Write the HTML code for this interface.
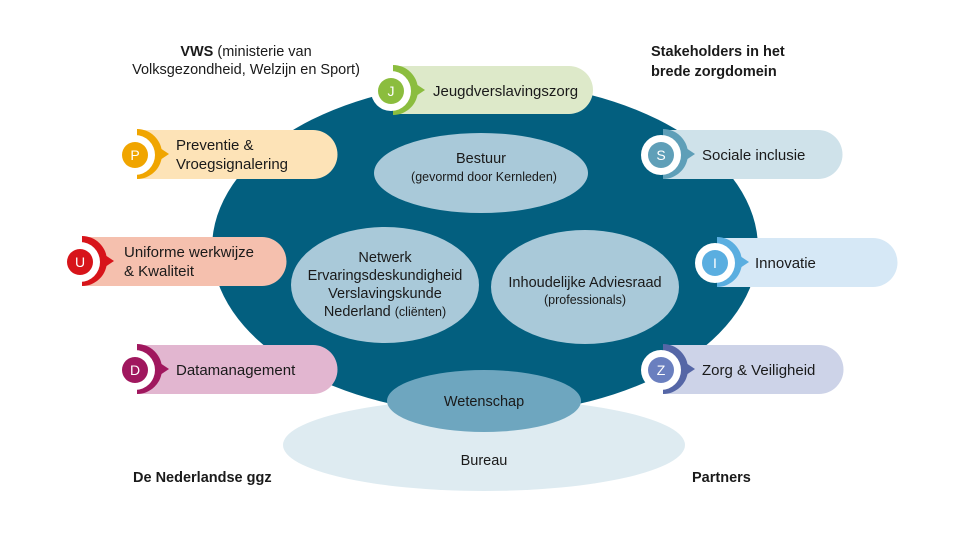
<!DOCTYPE html>
<html><head><meta charset="utf-8"><style>
html,body{margin:0;padding:0;background:#fff;}
svg{display:block;font-family:"Liberation Sans",sans-serif;}
</style></head><body>
<svg width="960" height="549" viewBox="0 0 960 549" xmlns="http://www.w3.org/2000/svg">
<ellipse cx="484" cy="445" rx="201" ry="46" fill="#deebf1"/>
<ellipse cx="485" cy="248" rx="273" ry="166" fill="#035f7f"/>
<ellipse cx="481" cy="173" rx="107" ry="40" fill="#a9c9d9"/>
<ellipse cx="385" cy="285" rx="94" ry="58" fill="#a9c9d9"/>
<ellipse cx="585" cy="287" rx="94" ry="57" fill="#a9c9d9"/>
<ellipse cx="484" cy="401" rx="97" ry="31" fill="#6ea6bf"/>
<g font-size="14.5" fill="#1a1a1a" text-anchor="middle">
<text x="481" y="163">Bestuur</text>
<text x="484" y="181" font-size="12.5">(gevormd door Kernleden)</text>
<text x="385" y="262">Netwerk</text>
<text x="385" y="280">Ervaringsdeskundigheid</text>
<text x="385" y="298">Verslavingskunde</text>
<text x="385" y="316">Nederland <tspan font-size="12.5">(cliënten)</tspan></text>
<text x="585" y="287">Inhoudelijke Adviesraad</text>
<text x="585" y="304" font-size="12.5">(professionals)</text>
<text x="484" y="406">Wetenschap</text>
<text x="484" y="465">Bureau</text>
</g>
<g font-size="14.5" fill="#1a1a1a">
<text x="246" y="56" text-anchor="middle"><tspan font-weight="bold">VWS</tspan> (ministerie van</text>
<text x="246" y="74" text-anchor="middle">Volksgezondheid, Welzijn en Sport)</text>
<text x="651" y="56" font-weight="bold">Stakeholders in het</text>
<text x="651" y="76" font-weight="bold">brede zorgdomein</text>
<text x="133" y="482" font-weight="bold">De Nederlandse ggz</text>
<text x="692" y="482" font-weight="bold">Partners</text>
</g>
<g font-size="15" fill="#1a1a1a">
<!-- J -->
<path d="M393 66 H569 A24 24 0 0 1 569 114 H393 Z" fill="#dde9c9"/>
<path d="M393 65 A25 25 0 0 1 393 115 Z" fill="#8bbd3e"/><path d="M416 84 L425 90 L416 96 Z" fill="#8bbd3e"/>
<circle cx="391" cy="91" r="20" fill="#fff"/><circle cx="391" cy="91" r="13" fill="#8bbd3e"/>
<text x="391" y="96" fill="#fff" text-anchor="middle" font-size="14">J</text>
<text x="433" y="96">Jeugdverslavingszorg</text>
<!-- P -->
<path d="M137 130 H313 A24.5 24.5 0 0 1 313 179 H137 Z" fill="#fde3b7"/>
<path d="M137 129 A25 25 0 0 1 137 179 Z" fill="#f0a500"/><path d="M160 148 L169 154 L160 160 Z" fill="#f0a500"/>
<circle cx="135" cy="155" r="20" fill="#fff"/><circle cx="135" cy="155" r="13" fill="#f0a500"/>
<text x="135" y="160" fill="#fff" text-anchor="middle" font-size="14">P</text>
<text x="176" y="150">Preventie &amp;</text><text x="176" y="169">Vroegsignalering</text>
<!-- U -->
<path d="M82 237 H262 A24.5 24.5 0 0 1 262 286 H82 Z" fill="#f5c0ae"/>
<path d="M82 236 A25 25 0 0 1 82 286 Z" fill="#d7141a"/><path d="M105 255 L114 261 L105 267 Z" fill="#d7141a"/>
<circle cx="80" cy="262" r="20" fill="#fff"/><circle cx="80" cy="262" r="13" fill="#d7141a"/>
<text x="80" y="267" fill="#fff" text-anchor="middle" font-size="14">U</text>
<text x="124" y="257">Uniforme werkwijze</text><text x="124" y="276">&amp; Kwaliteit</text>
<!-- D -->
<path d="M137 345 H313 A24.5 24.5 0 0 1 313 394 H137 Z" fill="#e2b6d0"/>
<path d="M137 344 A25 25 0 0 1 137 394 Z" fill="#a0175e"/><path d="M160 363 L169 369 L160 375 Z" fill="#a0175e"/>
<circle cx="135" cy="370" r="20" fill="#fff"/><circle cx="135" cy="370" r="13" fill="#a0175e"/>
<text x="135" y="375" fill="#fff" text-anchor="middle" font-size="14">D</text>
<text x="176" y="375">Datamanagement</text>
<!-- S -->
<path d="M663 130 H818 A24.5 24.5 0 0 1 818 179 H663 Z" fill="#cfe2ea"/>
<path d="M663 129 A25 25 0 0 1 663 179 Z" fill="#5f9fb8"/><path d="M686 148 L695 154 L686 160 Z" fill="#5f9fb8"/>
<circle cx="661" cy="155" r="20" fill="#fff"/><circle cx="661" cy="155" r="13" fill="#5f9fb8"/>
<text x="661" y="160" fill="#fff" text-anchor="middle" font-size="14">S</text>
<text x="702" y="160">Sociale inclusie</text>
<!-- I -->
<path d="M717 238 H873 A24.5 24.5 0 0 1 873 287 H717 Z" fill="#d6e8f6"/>
<path d="M717 237 A25 25 0 0 1 717 287 Z" fill="#5aaee0"/><path d="M740 256 L749 262 L740 268 Z" fill="#5aaee0"/>
<circle cx="715" cy="263" r="20" fill="#fff"/><circle cx="715" cy="263" r="13" fill="#5aaee0"/>
<text x="715" y="268" fill="#fff" text-anchor="middle" font-size="14">I</text>
<text x="755" y="268">Innovatie</text>
<!-- Z -->
<path d="M663 345 H819 A24.5 24.5 0 0 1 819 394 H663 Z" fill="#cdd3e8"/>
<path d="M663 344 A25 25 0 0 1 663 394 Z" fill="#5566a6"/><path d="M686 363 L695 369 L686 375 Z" fill="#5566a6"/>
<circle cx="661" cy="370" r="20" fill="#fff"/><circle cx="661" cy="370" r="13" fill="#6a7fbf"/>
<text x="661" y="375" fill="#fff" text-anchor="middle" font-size="14">Z</text>
<text x="702" y="375">Zorg &amp; Veiligheid</text>
</g>
</svg>
</body></html>
